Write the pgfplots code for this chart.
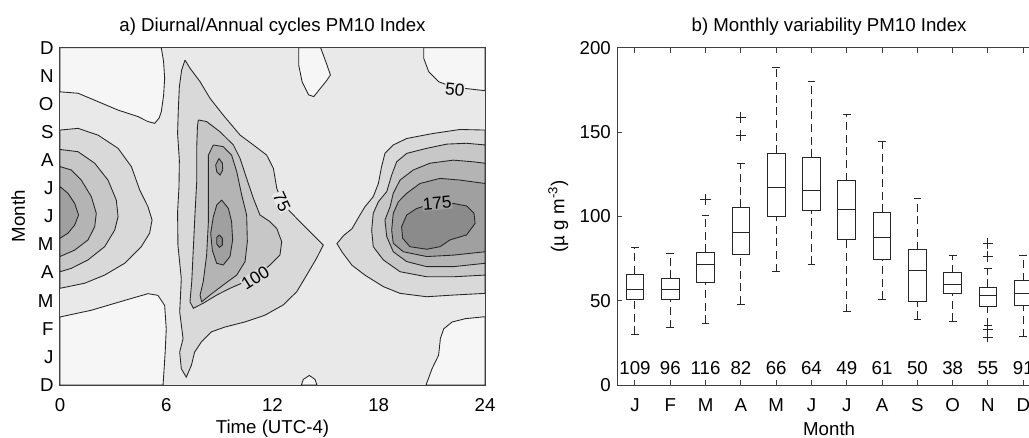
\documentclass[border=0pt]{standalone}
\usepackage{fontspec}
\setmainfont{Liberation Sans}
\usepackage{pgfplots}
\pgfplotsset{compat=1.18}
\definecolor{cL}{HTML}{F6F6F6}
\definecolor{c50}{HTML}{E9E9E9}
\definecolor{c75}{HTML}{D9D9D9}
\definecolor{c100}{HTML}{C7C7C7}
\definecolor{c125}{HTML}{B4B4B4}
\definecolor{c150}{HTML}{A0A0A0}
\definecolor{c175}{HTML}{8B8B8B}
\pgfplotsset{
  cf/.style={draw=black!85, line width=0.65pt, fill=#1},
  bxc/.style={draw=black!85, line width=0.75pt, solid},
  wh/.style={draw=black!85, line width=0.75pt, dash pattern=on 6pt off 3.5pt},
  base/.style={scale only axis, anchor=south west, height=252.98pt,
    /pgf/number format/assume math mode=true,
    axis line style={black!75, line width=0.75pt},
    xticklabel style={anchor=center, yshift=-15pt},
    every axis title shift=0pt,
    title style={at={(axis description cs:0.5,1.0623)}, anchor=center},
    xlabel style={at={(axis description cs:0.5,-0.130)}, anchor=center},
    axis on top,
  },
}
% one box: position, lower whisker, lower quartile, median, upper quartile, upper whisker
\newcommand\bxp[6]{%
  \pgfmathsetmacro\xl{#1-0.25}\pgfmathsetmacro\xr{#1+0.25}%
  \pgfmathsetmacro\cl{#1-0.11}\pgfmathsetmacro\cr{#1+0.11}%
  \addplot[wh] coordinates {(#1,#5) (#1,#6)};
  \addplot[wh] coordinates {(#1,#2) (#1,#3)};
  \addplot[bxc] coordinates {(\cl,#6) (\cr,#6)};
  \addplot[bxc] coordinates {(\cl,#2) (\cr,#2)};
  \addplot[bxc] coordinates {(\xl,#3) (\xr,#3) (\xr,#5) (\xl,#5) (\xl,#3)};
  \addplot[bxc] coordinates {(\xl,#4) (\xr,#4)};
}
\begin{document}
\fontsize{14}{16.8}\selectfont
\begin{tikzpicture}
\useasboundingbox (0,0) rectangle (771.75pt,327.75pt);
\clip (0,0) rectangle (771.75pt,327.75pt);
% ---------------- a) contour panel ----------------
\begin{axis}[base, at={(45pt,39pt)}, width=318.75pt,
  xmin=0, xmax=24, ymin=0, ymax=12,
  xtick={0,6,12,18,24},
  ytick={0,1,2,3,4,5,6,7,8,9,10,11,12},
  yticklabels={D,J,F,M,A,M,J,J,A,S,O,N,D},
  major tick length=0pt,
  axis background/.style={fill=c50},
  title={a) Diurnal/Annual cycles PM10 Index},
  xlabel={Time (UTC-4)},
  ylabel={Month},
  ylabel style={at={(axis description cs:-0.0981,0.5)}, anchor=center},
]
% below 50
\addplot[cf=cL] coordinates {(0,12) (0,10.43) (1.02,10.38) (2.15,10.08) (3.28,9.78) (4.40,9.55) (4.97,9.37) (5.35,9.31) (5.6,9.5) (5.72,9.72) (5.85,10.3) (5.91,10.91) (5.85,11.5) (5.72,12) (0,12)};
\addplot[cf=cL] coordinates {(0,0) (0,2.42) (1.77,2.66) (3.65,3.01) (4.97,3.25) (5.53,3.19) (5.91,2.83) (6.0,2.0) (5.94,1.17) (5.82,0) (0,0)};
\addplot[cf=cL] coordinates {(13.48,12) (13.48,11.38) (13.67,10.79) (14.04,10.32) (14.33,10.26) (14.70,10.55) (15.08,10.85) (15.27,11.03) (15.08,11.38) (14.80,11.86) (14.72,12) (13.48,12)};
\addplot[cf=cL] coordinates {(13.63,0) (13.74,0.20) (14.08,0.34) (14.40,0.20) (14.51,0) (13.63,0)};
\addplot[cf=cL] coordinates {(20.54,12) (20.54,11.62) (20.82,11.15) (21.38,10.79) (22.14,10.61) (22.89,10.55) (24,10.47) (24,12) (20.54,12)};
\addplot[cf=cL] coordinates {(24,2.43) (22.89,2.36) (22.14,2.24) (21.67,2.00) (21.48,1.65) (21.38,1.06) (21.01,0.58) (20.67,0) (24,0) (24,2.43)};
% 75
\addplot[cf=c75] coordinates {(0,9.07) (1.02,9.13) (2.15,8.89) (3.28,8.42) (4.03,7.77) (4.50,6.94) (4.97,6.34) (5.20,5.87) (5.06,5.40) (4.59,4.92) (3.65,4.33) (2.52,3.91) (1.39,3.62) (0,3.44) (0,9.07)};
\addplot[cf=c75] coordinates {(7.06,11.56) (7.34,11.27) (7.91,10.79) (8.47,10.20) (9.22,9.60) (10.17,8.89) (10.92,8.54) (11.67,8.18) (12.05,7.71) (12.24,7.00) (12.52,6.52) (12.99,6.17) (13.74,5.69) (14.49,5.22) (14.87,4.98) (14.49,4.51) (13.93,3.91) (13.37,3.32) (12.61,2.85) (11.56,2.48) (10.43,2.24) (9.30,2.06) (8.55,1.89) (7.98,1.53) (7.60,1.17) (7.42,0.70) (7.13,0.28) (6.85,0.58) (6.76,1.17) (6.95,1.65) (6.76,2.60) (6.85,3.78) (6.66,4.97) (6.64,6.15) (6.72,7.06) (6.74,8.00) (6.64,8.95) (6.68,9.78) (6.74,10.61) (6.87,11.21) (7.06,11.56)};
\addplot[cf=c75] coordinates {(24,9.07) (22.59,9.09) (21.08,8.95) (19.58,8.77) (18.82,8.54) (18.35,8.24) (18.16,7.77) (17.98,7.17) (17.69,6.70) (17.22,6.34) (16.94,6.05) (16.49,5.56) (16.02,5.32) (15.64,5.03) (15.93,4.73) (16.49,4.26) (17.24,3.90) (18.26,3.50) (19.20,3.26) (20.71,3.14) (22.21,3.20) (24,3.26) (24,9.07)};
% 100
\addplot[cf=c100] coordinates {(0,8.38) (1.02,8.30) (1.96,7.89) (2.71,7.29) (3.18,6.58) (3.28,5.99) (3.09,5.51) (2.52,4.92) (1.58,4.45) (0.64,4.15) (0,4.03) (0,8.38)};
\addplot[cf=c100] coordinates {(7.81,9.43) (8.28,9.37) (9.04,9.01) (9.79,8.54) (10.17,8.06) (10.54,7.35) (10.92,6.64) (11.29,6.05) (11.86,5.81) (12.24,5.57) (12.52,5.10) (12.42,4.62) (11.86,4.27) (11.01,3.82) (10.26,3.62) (9.60,3.44) (8.85,3.20) (8.09,2.91) (7.53,2.73) (7.34,2.96) (7.44,3.68) (7.53,4.86) (7.62,6.05) (7.72,7.23) (7.72,8.42) (7.76,9.19) (7.81,9.43)};
\addplot[cf=c100] coordinates {(24,8.54) (22.96,8.60) (21.84,8.57) (20.71,8.42) (19.58,8.24) (19.01,7.94) (18.73,7.47) (18.45,6.88) (17.98,6.52) (17.69,6.11) (17.60,5.51) (17.69,4.92) (18.26,4.45) (19.20,4.03) (20.71,3.85) (22.21,3.85) (24,3.91) (24,8.54)};
% 125
\addplot[cf=c125] coordinates {(0,7.77) (0.64,7.65) (1.20,7.29) (1.77,6.70) (2.05,6.11) (1.96,5.63) (1.58,5.16) (0.83,4.80) (0,4.57) (0,7.77)};
\addplot[cf=c125] coordinates {(8.66,8.54) (9.22,8.48) (9.69,8.18) (9.98,7.59) (10.26,6.76) (10.54,6.05) (10.58,5.10) (10.45,4.39) (9.98,3.91) (9.22,3.56) (8.47,3.20) (8.00,2.96) (7.91,3.20) (8.09,3.68) (8.28,4.62) (8.38,5.81) (8.38,7.00) (8.38,8.18) (8.66,8.54)};
\addplot[cf=c125] coordinates {(24,7.89) (23.34,7.94) (22.21,8.00) (20.89,7.89) (19.95,7.65) (19.20,7.29) (18.82,6.82) (18.64,6.34) (18.35,5.87) (18.45,5.28) (18.82,4.74) (19.58,4.39) (20.71,4.21) (22.21,4.21) (24,4.33) (24,7.89)};
% 150
\addplot[cf=c150] coordinates {(0,7.06) (0.45,6.82) (0.83,6.46) (1.05,6.05) (0.83,5.69) (0.45,5.40) (0,5.22) (0,7.06)};
\addplot[cf=c150] coordinates {(9.13,6.58) (9.51,6.28) (9.69,5.81) (9.75,5.16) (9.60,4.57) (9.22,4.27) (8.85,4.33) (8.60,4.80) (8.51,5.40) (8.66,5.99) (8.85,6.40) (9.13,6.58)};
\addplot[cf=c150] coordinates {(8.98,8.06) (9.17,7.89) (9.19,7.65) (9.04,7.47) (8.85,7.59) (8.79,7.83) (8.98,8.06)};
\addplot[cf=c150] coordinates {(24,7.17) (22.59,7.29) (21.46,7.35) (20.33,7.17) (19.58,6.82) (19.11,6.52) (18.82,6.11) (18.73,5.51) (18.82,5.04) (19.39,4.74) (20.71,4.57) (22.21,4.62) (24,4.74) (24,7.17)};
% 175
\addplot[cf=c175] coordinates {(9.00,5.34) (9.17,5.22) (9.17,4.98) (9.00,4.90) (8.85,5.02) (8.85,5.25) (9.00,5.34)};
\addplot[cf=c175] coordinates {(19.29,5.63) (19.58,6.05) (20.14,6.28) (21.08,6.46) (22.21,6.46) (22.96,6.37) (23.38,6.11) (23.44,5.75) (22.96,5.34) (22.02,5.16) (21.46,4.92) (20.71,4.83) (19.76,4.92) (19.35,5.22) (19.29,5.63)};
% contour labels
\node[rotate=-7, fill=c50, inner sep=0.3pt, font=\fontsize{13}{15}\selectfont] at (axis cs:22.3,10.52) {50};
\node[rotate=-65, fill=c50, inner sep=0.3pt, font=\fontsize{13}{15}\selectfont] at (axis cs:12.52,6.52) {75};
\node[rotate=32, fill=c75, inner sep=0.3pt, font=\fontsize{13}{15}\selectfont] at (axis cs:11.03,3.82) {100};
\node[rotate=5, fill=c150, inner sep=0.3pt, font=\fontsize{13}{15}\selectfont] at (axis cs:21.3,6.46) {175};
\end{axis}
% ---------------- b) boxplot panel ----------------
\begin{axis}[base, at={(463pt,39pt)}, width=317.7pt,
  xmin=0.5, xmax=12.5, ymin=0, ymax=200,
  xtick={1,2,3,4,5,6,7,8,9,10,11,12},
  xticklabels={J,F,M,A,M,J,J,A,S,O,N,D},
  ytick={0,50,100,150,200},
  tick align=inside, major tick length=3.75pt,
  tick style={black!75, line width=0.75pt},
  title={b) Monthly variability PM10 Index},
  xlabel={Month},
  ylabel={(µ g m\textsuperscript{-3})},
  ylabel style={at={(axis description cs:-0.1393,0.5)}, anchor=center},
]
\bxp{1}{30}{50.8}{56.7}{65.8}{81.4}
\bxp{2}{34}{50.8}{56.7}{63.2}{78}
\bxp{3}{36.6}{60.7}{71.7}{78.7}{100.8}
\bxp{4}{48}{77.5}{90.5}{105.3}{131.4}
\bxp{5}{67.2}{100.2}{117.2}{137.4}{188.1}
\bxp{6}{71.5}{103.4}{115.2}{135}{180}
\bxp{7}{43.5}{86.2}{104.2}{121.1}{160.3}
\bxp{8}{50.8}{74.3}{87.2}{102.4}{144.5}
\bxp{9}{38.9}{49.4}{67.8}{80.2}{110.7}
\bxp{10}{37.8}{54}{59.6}{66.6}{76.6}
\bxp{11}{35}{46.8}{53}{57.9}{68.8}
\bxp{12}{28.6}{47.4}{54.4}{61.8}{76.8}
% outliers
\addplot[only marks, mark=+, mark size=4pt, draw=black!85, mark options={line width=0.75pt}] coordinates {(3,110) (4,147.8) (4,158.5) (11,76) (11,84) (11,32.8) (11,28.4)};
% sample counts
\addplot[draw=none, nodes near coords, point meta=explicit symbolic,
  every node near coord/.append style={anchor=center, inner sep=0pt, text=black}]
  table[meta=n, row sep=\\] {x y n\\ 1 10 109\\ 2 10 96\\ 3 10 116\\ 4 10 82\\ 5 10 66\\ 6 10 64\\ 7 10 49\\ 8 10 61\\ 9 10 50\\ 10 10 38\\ 11 10 55\\ 12 10 91\\};
\end{axis}
\end{tikzpicture}
\end{document}
